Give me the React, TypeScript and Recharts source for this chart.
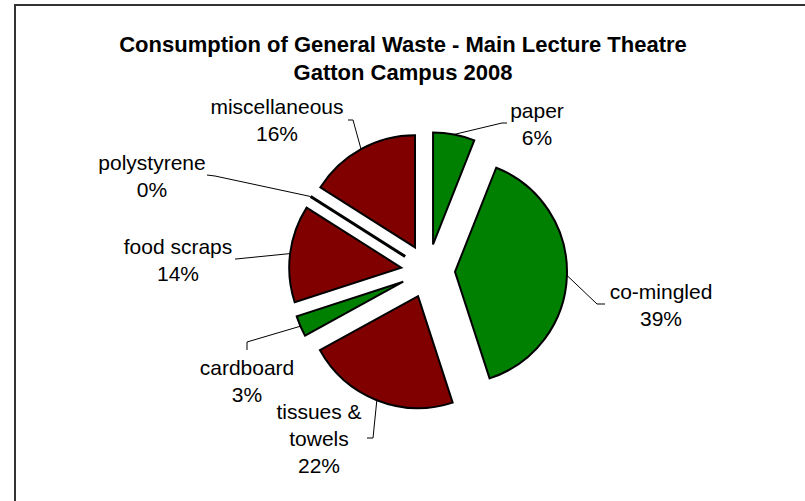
import { PieChart, Pie, Cell } from "recharts";

// ─── data ────────────────────────────────────────────────────────────────────

const CATEGORIES = [
  "paper",
  "co-mingled",
  "tissues & towels",
  "cardboard",
  "food scraps",
  "polystyrene",
  "miscellaneous",
];
const SHARES = [6, 39, 22, 3, 14, 0, 16];
const STREAMS = ["recycle", "recycle", "landfill", "recycle", "landfill", "landfill", "landfill"];

const TITLE = ["Consumption of General Waste - Main Lecture Theatre", "Gatton Campus 2008"];

// ─── styling / layout ────────────────────────────────────────────────────────

const GREEN = "#008000";
const MAROON = "#800000";
const FONT = "'Liberation Sans', Arial, sans-serif";
const EXPLODE = 27;
const RADIAN = Math.PI / 180;
const LABEL_SIZE = 21;
const LINE_GAP = 27;

// where Excel put each data label (block centre) and its leader line bend/end
const LABEL_LAYOUT = [
  { x: 537, y: 123, bend: [502, 123], end: [507, 123] },
  { x: 661, y: 304, bend: [597, 304], end: [605, 304] },
  { x: 319, y: 438, bend: [373, 438], end: [367, 438] },
  { x: 247, y: 380, bend: [247, 342], end: [247, 350] },
  { x: 178, y: 259, bend: [236, 259], end: [235, 259] },
  { x: 152, y: 175, bend: [215, 176], end: [207, 175] },
  { x: 277, y: 119, bend: [353, 120], end: [348, 120] },
];

const total = SHARES.reduce((a, b) => a + b, 0);
const chartData = CATEGORIES.map((name, i) => ({ name, value: SHARES[i] }));

// mid angle of each slice (recharts degrees, clockwise from 12 o'clock)
const midAngles = SHARES.map((v, i) => {
  const before = SHARES.slice(0, i).reduce((a, b) => a + b, 0);
  return 90 - (360 * (before + v / 2)) / total;
});

function labelLines(name: string): string[] {
  return name === "tissues & towels" ? ["tissues &", "towels"] : [name];
}

function renderLabel(props: any) {
  const { cx, cy, midAngle, outerRadius, percent, index } = props;
  const ux = Math.cos(-midAngle * RADIAN);
  const uy = Math.sin(-midAngle * RADIAN);
  const ox = cx + EXPLODE * ux;
  const oy = cy + EXPLODE * uy;
  const sx = ox + outerRadius * ux;
  const sy = oy + outerRadius * uy;
  const lay = LABEL_LAYOUT[index];
  const lines = [...labelLines(CATEGORIES[index]), `${Math.round(percent * 100)}%`];
  const top = lay.y - ((lines.length - 1) * LINE_GAP) / 2;

  return (
    <g key={`label-${index}`}>
      {SHARES[index] === 0 && (
        <line x1={ox} y1={oy} x2={sx} y2={sy} stroke="#000" strokeWidth={3} />
      )}
      <polyline
        points={`${sx},${sy} ${lay.bend[0]},${lay.bend[1]} ${lay.end[0]},${lay.end[1]}`}
        fill="none"
        stroke="#000"
        strokeWidth={1}
      />
      <text
        textAnchor="middle"
        dominantBaseline="central"
        fontFamily={FONT}
        fontSize={LABEL_SIZE}
        fill="#000"
      >
        {lines.map((l, k) => (
          <tspan key={k} x={lay.x} y={top + k * LINE_GAP}>
            {l}
          </tspan>
        ))}
      </text>
    </g>
  );
}

export default function App() {
  return (
    <div
      style={{
        position: "fixed",
        left: 0,
        top: 0,
        width: 805,
        height: 501,
        overflow: "hidden",
        background: "#fff",
      }}
    >
      <div
        style={{
          position: "absolute",
          left: 14,
          top: 4,
          width: 820,
          height: 540,
          border: "2px solid #333",
          boxSizing: "border-box",
        }}
      />
      <div
        style={{
          position: "absolute",
          left: 0,
          width: 806,
          top: 31,
          textAlign: "center",
          fontFamily: FONT,
          fontWeight: "bold",
          fontSize: 22,
          lineHeight: "28px",
          color: "#000",
        }}
      >
        {TITLE.map((t) => (
          <div key={t}>{t}</div>
        ))}
      </div>
      <div style={{ position: "absolute", left: 0, top: 0 }}>
        <PieChart width={805} height={501} margin={{ top: 0, right: 0, bottom: 0, left: 0 }}>
          <Pie
            data={chartData}
            dataKey="value"
            nameKey="name"
            cx={428}
            cy={271}
            outerRadius={112}
            startAngle={90}
            endAngle={-270}
            stroke="#000"
            strokeWidth={2}
            label={renderLabel}
            labelLine={false}
            isAnimationActive={false}
          >
            {chartData.map((_entry, i) => {
              const dx = EXPLODE * Math.cos(-midAngles[i] * RADIAN);
              const dy = EXPLODE * Math.sin(-midAngles[i] * RADIAN);
              return (
                <Cell
                  key={`cell-${i}`}
                  fill={STREAMS[i] === "recycle" ? GREEN : MAROON}
                  transform={`translate(${dx} ${dy})`}
                  style={{ transform: `translate(${dx}px, ${dy}px)` }}
                />
              );
            })}
          </Pie>
        </PieChart>
      </div>
    </div>
  );
}
